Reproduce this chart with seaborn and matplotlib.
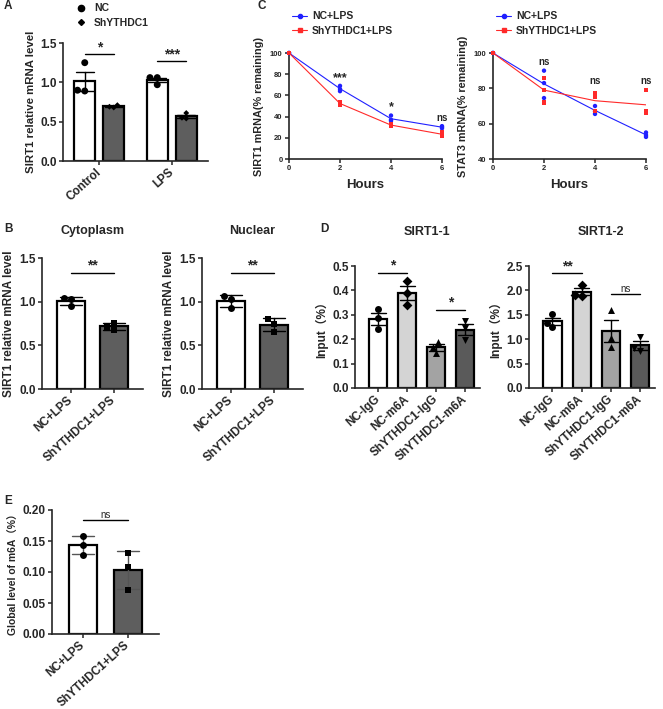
import numpy as np
import pandas as pd
import seaborn as sns
import matplotlib.pyplot as plt
from matplotlib.lines import Line2D

# ---- data ----
a_conditions = ['Control', 'LPS']
a_groups = ['NC', 'ShYTHDC1']
a_nc_control = [1.25, 0.90, 0.89]
a_sh_control = [0.71, 0.69, 0.68]
a_nc_lps = [1.06, 1.06, 0.97]
a_sh_lps = [0.61, 0.55, 0.54]
a_sig = ['*', '***']

b_groups = ['NC+LPS', 'ShYTHDC1+LPS']
b_cyto_nc = [1.03, 1.04, 0.95]
b_cyto_sh = [0.76, 0.71, 0.68]
b_nuc_nc = [1.06, 1.03, 0.93]
b_nuc_sh = [0.80, 0.75, 0.655]

c_hours = [0, 2, 4, 6]
c_series = ['NC+LPS', 'ShYTHDC1+LPS']
c1_nc = [[100, 100, 100], [69, 66, 64], [41, 37, 36], [31, 30, 29]]
c1_sh = [[100, 100, 100], [54, 52, 51], [33, 32, 31], [25, 23, 22]]
c2_nc = [[100, 100, 100], [90, 83, 74.5], [70, 67, 65.5], [55, 53.5, 52.5]]
c2_sh = [[100, 100, 100], [86, 79, 72], [77, 75, 67], [79, 67, 66]]
c1_sig = ['***', '*', 'ns']
c2_sig = ['ns', 'ns', 'ns']

d_groups = ['NC-IgG', 'NC-m6A', 'ShYTHDC1-IgG', 'ShYTHDC1-m6A']
d1_values = [[0.325, 0.286, 0.240], [0.437, 0.388, 0.339],
             [0.189, 0.168, 0.143], [0.275, 0.245, 0.197]]
d2_values = [[1.51, 1.34, 1.25], [2.12, 1.91, 1.89],
             [1.60, 1.03, 0.85], [1.05, 0.81, 0.76]]
d1_sig = ['*', '*']
d2_sig = ['**', 'ns']

e_nc = [0.158, 0.144, 0.128]
e_sh = [0.131, 0.108, 0.071]

# annotation heights (data units)
a_sig_y = [1.36, 1.27]
b_sig_y = 1.33
c1_sig_y = [76, 49, 39]
c2_sig_y = [95, 84, 84]
d1_sig_y = [0.473, 0.32]
d2_sig_y = [2.35, 1.92]
e_sig_y = 0.184

# ---- style ----
sns.set_style('ticks')
plt.rcParams['font.family'] = ['Liberation Sans', 'Noto Sans CJK SC']
plt.rcParams['font.weight'] = 'bold'
plt.rcParams['axes.labelweight'] = 'bold'

W, H = 663, 709
fig = plt.figure(figsize=(W / 100, H / 100), dpi=100)


def add_ax(left, top, right, bottom):
    return fig.add_axes([left / W, 1 - bottom / H, (right - left) / W, (bottom - top) / H])


def style(ax, size=8.5):
    sns.despine(ax=ax)
    for s in ['left', 'bottom']:
        ax.spines[s].set_linewidth(1.2)
    ax.tick_params(width=1.1, length=3, labelsize=size, pad=1.5)


def rotate(ax, size=8.5):
    plt.setp(ax.get_xticklabels(), rotation=42, ha='right', va='center',
             rotation_mode='anchor', fontsize=size)
    ax.tick_params(axis='x', pad=4)


def sig(ax, x1, x2, y, text, size=10, weight='bold'):
    ax.plot([x1, x2], [y, y], color='black', lw=1.0)
    ax.text((x1 + x2) / 2, y, text, ha='center', va='bottom', fontsize=size, fontweight=weight)


def bar_panel(ax, groups, values, colors, markers, errorbar, width, err_color='black'):
    df = pd.DataFrame({'group': np.repeat(groups, 3), 'value': np.concatenate(values)})
    sns.barplot(data=df, x='group', y='value', hue='group', order=groups, hue_order=groups,
                palette=colors, errorbar=errorbar, width=width, capsize=0.5,
                edgecolor='black', linewidth=1.6, err_kws={'color': err_color, 'linewidth': 1.0},
                legend=False, ax=ax)
    for g, m in zip(groups, markers):
        sns.swarmplot(data=df[df.group == g], x='group', y='value', order=groups,
                      marker=m, color='black', size=5, ax=ax)
    ax.set_xlabel('')
    style(ax)
    rotate(ax)


def title(x, y, text):
    fig.text(x / W, 1 - y / H, text, ha='center', va='center', fontsize=9, fontweight='bold')


# ---- A ----
ax = add_ax(63, 43, 208, 161)
dfa = pd.DataFrame({
    'cond': np.repeat(['Control', 'Control', 'LPS', 'LPS'], 3),
    'grp': np.tile(np.repeat(a_groups, 3), 2),
    'value': np.concatenate([a_nc_control, a_sh_control, a_nc_lps, a_sh_lps])})
a_pal = {'NC': 'white', 'ShYTHDC1': '#5e5e5e'}
sns.barplot(data=dfa, x='cond', y='value', hue='grp', order=a_conditions, hue_order=a_groups,
            palette=a_pal, errorbar='se', width=0.8, gap=0.28, capsize=0.5,
            edgecolor='black', linewidth=1.6, err_kws={'color': 'black', 'linewidth': 1.0},
            legend=False, ax=ax)
for g, m, s in zip(a_groups, ['o', 'D'], [5, 3]):
    sns.swarmplot(data=dfa[dfa.grp == g], x='cond', y='value', hue='grp', order=a_conditions,
                  hue_order=a_groups, dodge=True, palette={k: 'black' for k in a_groups},
                  marker=m, size=s, legend=False, ax=ax)
ax.set_xlim(-0.5, 1.5)
ax.set_ylim(0, 1.5)
ax.set_yticks([0, 0.5, 1.0, 1.5])
ax.set_xlabel('')
ax.set_ylabel('SIRT1 relative mRNA level', fontsize=8.2, labelpad=3)
style(ax)
rotate(ax)
for i, (t, y) in enumerate(zip(a_sig, a_sig_y)):
    sig(ax, i - 0.2, i + 0.2, y, t)
ax.legend(handles=[Line2D([], [], ls='', marker='o', color='black', markersize=4.5),
                   Line2D([], [], ls='', marker='D', color='black', markersize=3)],
          labels=a_groups, loc='upper left', bbox_to_anchor=(70 / W, 1 + 2 / H),
          bbox_transform=fig.transFigure, frameon=False, fontsize=7.5, handlelength=1.2,
          handletextpad=0.6, labelspacing=0.45, borderpad=0)

# ---- B ----
for (left, right, nc, sh, name) in [(42, 143, b_cyto_nc, b_cyto_sh, 'Cytoplasm'),
                                    (202, 303, b_nuc_nc, b_nuc_sh, 'Nuclear')]:
    ax = add_ax(left, 258, right, 389)
    bar_panel(ax, b_groups, [nc, sh], ['white', '#5e5e5e'], ['o', 's'], 'sd', 0.65)
    ax.set_xlim(-0.67, 1.67)
    ax.set_ylim(0, 1.5)
    ax.set_yticks([0, 0.5, 1.0, 1.5])
    ax.set_ylabel('SIRT1 relative mRNA level', fontsize=8.5, labelpad=3)
    sig(ax, 0, 1, b_sig_y, '**')
    title((left + right) / 2, 231, name)

# ---- C ----
c_pal = {'NC+LPS': '#2020ff', 'ShYTHDC1+LPS': '#ff2a2a'}
c_markers = {'NC+LPS': 'o', 'ShYTHDC1+LPS': 's'}
for (left, right, nc, sh, ylim, yticks, ylabel, texts, ys, lx) in [
        (289, 442, c1_nc, c1_sh, (0, 100), [0, 20, 40, 60, 80, 100],
         'SIRT1 mRNA(% remaining)', c1_sig, c1_sig_y, 287),
        (493, 646, c2_nc, c2_sh, (40, 100), [40, 60, 80, 100],
         'STAT3 mRNA(% remaining)', c2_sig, c2_sig_y, 491)]:
    ax = add_ax(left, 53, right, 159)
    dfc = pd.DataFrame({
        'hour': np.tile(np.repeat(c_hours, 3), 2),
        'value': np.concatenate([np.ravel(nc), np.ravel(sh)]),
        'series': np.repeat(c_series, 12)})
    sns.lineplot(data=dfc, x='hour', y='value', hue='series', palette=c_pal, errorbar=None,
                 linewidth=0.8, legend=False, ax=ax)
    sns.scatterplot(data=dfc, x='hour', y='value', hue='series', style='series',
                    markers=c_markers, palette=c_pal, s=10, linewidth=0, legend=False,
                    clip_on=False, zorder=3, ax=ax)
    ax.set_xlim(0, 6)
    ax.set_ylim(*ylim)
    ax.set_xticks(c_hours)
    ax.set_yticks(yticks)
    ax.set_xlabel('Hours', fontsize=9.5, labelpad=5)
    ax.set_ylabel(ylabel, fontsize=7.8, labelpad=4)
    style(ax, size=5.5)
    for h, t, y in zip(c_hours[1:], texts, ys):
        ax.text(h, y, t, ha='center', va='center', fontsize=9 if t != 'ns' else 7)
    ax.legend(handles=[Line2D([], [], color=c_pal[s], marker=c_markers[s], markersize=3, lw=0.8)
                       for s in c_series],
              labels=c_series, loc='upper left', bbox_to_anchor=(lx / W, 1 - 6 / H),
              bbox_transform=fig.transFigure, frameon=False, fontsize=7.5, handlelength=1.4,
              handletextpad=0.5, labelspacing=0.45, borderpad=0)

# ---- D ----
d_colors = ['white', '#d4d4d4', '#a3a3a3', '#5a5a5a']
d_markers = ['o', 'D', '^', 'v']
for (left, right, vals, ylim, step, texts, ys, name) in [
        (355, 480, d1_values, 0.5, 0.1, d1_sig, d1_sig_y, 'SIRT1-1'),
        (529, 655, d2_values, 2.5, 0.5, d2_sig, d2_sig_y, 'SIRT1-2')]:
    ax = add_ax(left, 266, right, 388)
    bar_panel(ax, d_groups, vals, d_colors, d_markers, 'se', 0.62)
    ax.set_xlim(-0.8, 3.5)
    ax.set_ylim(0, ylim)
    ax.set_yticks(np.arange(0, ylim + step / 2, step))
    ax.set_ylabel('Input（%）', fontsize=8.5, labelpad=3)
    for (x1, x2), t, y in zip([(0, 1), (2, 3)], texts, ys):
        if t == 'ns':
            sig(ax, x1, x2, y, t, size=7, weight='normal')
        else:
            sig(ax, x1, x2, y, t)
    title((left + right) / 2 + 9, 232, name)

# ---- E ----
ax = add_ax(52, 510, 159, 634)
bar_panel(ax, b_groups, [e_nc, e_sh], ['white', '#5e5e5e'], ['o', 's'], 'sd', 0.63,
          err_color='#555555')
ax.set_xlim(-0.7, 1.7)
ax.set_ylim(0, 0.2)
ax.set_yticks([0, 0.05, 0.10, 0.15, 0.20])
ax.set_ylabel('Global level of m6A（%）', fontsize=7.5, labelpad=3)
sig(ax, 0, 1, e_sig_y, 'ns', size=7, weight='normal')

# ---- panel letters ----
for x, y, t in [(4, 6, 'A'), (4, 229, 'B'), (258, 6, 'C'), (320, 229, 'D'), (4, 501, 'E')]:
    fig.text(x / W, 1 - y / H, t, ha='left', va='center', fontsize=8.5, fontweight='bold')

fig.savefig('out.png', dpi=100)
